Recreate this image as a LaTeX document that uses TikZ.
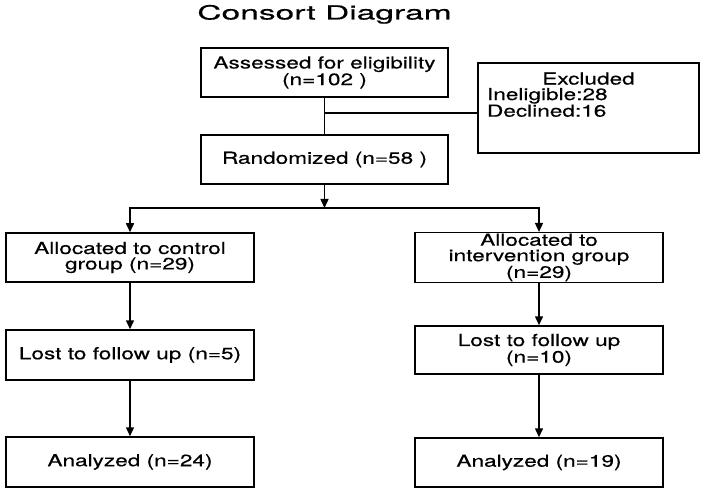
\documentclass[tikz,border=0pt]{standalone}
\usepackage{fontspec}
\setmainfont{TeX Gyre Heros}[FakeStretch=1.37, FakeBold=0.4]
\newfontfamily\titlefont{TeX Gyre Heros}[FakeStretch=1.72, FakeBold=0.4]
\usetikzlibrary{arrows.meta}

\begin{document}
\begin{tikzpicture}[x=1bp, y=1bp, line width=1.5bp,
    cbox/.style={draw, rectangle, minimum width=248bp, minimum height=49bp,
      inner sep=1bp, align=center, font=\fontsize{16.5bp}{15.5bp}\selectfont},
    flow/.style={-{Triangle[width=8bp,length=9bp]}}]
  \useasboundingbox (0,0) rectangle (705,-492);
  \fill[white] (0,0) rectangle (705,-492);
  % title
  \node[anchor=base, inner sep=0pt, font=\titlefont\fontsize{19.5bp}{19.5bp}\selectfont] (title) at (324.5,-19.5) {Consort Diagram};
  % enrolment
  \node[cbox, minimum width=247bp] (assess) at (324.5,-72.5) {Assessed for eligibility\\(n=102 )};
  \node[cbox, minimum width=221bp, minimum height=90bp] (excl) at (588.5,-108)
    {\parbox[c][88bp][t]{203bp}{\vspace*{8.5bp}\centerline{Excluded}Ineligible:28\\Declined:16}};
  \node[cbox, minimum width=247bp] (rand) at (324.5,-159.5) {Randomized (n=58 )};
  % groups
  \node[cbox] (actrl) at (130,-257.5) {Allocated to control\\group (n=29)};
  \node[cbox] (aint) at (539,-257.5) {Allocated to\\intervention group\\(n=29)};
  \node[cbox, minimum height=50bp] (lctrl) at (130,-355) {Lost to follow up (n=5)};
  \node[cbox, minimum height=48bp] (lint) at (539,-350) {Lost to follow up\\(n=10)};
  \node[cbox, minimum height=50bp] (nctrl) at (130,-462) {Analyzed (n=24)};
  \node[cbox] (nint) at (539,-462.5) {Analyzed (n=19)};
  % connectors
  \coordinate (exjoin) at (324.5,-113);
  \coordinate (fork) at (324.5,-208);
  \draw (assess) -- (rand);
  \draw (exjoin) -- (exjoin -| excl.west);
  \draw[flow] (rand) -- (fork);
  \draw[flow] (fork) -| (actrl);
  \draw[flow] (fork) -| (aint);
  \draw[flow] (actrl) -- (lctrl);
  \draw[flow] (lctrl) -- (nctrl);
  \draw[flow] (aint) -- (lint);
  \draw[flow] (lint) -- (nint);
\end{tikzpicture}
\end{document}
